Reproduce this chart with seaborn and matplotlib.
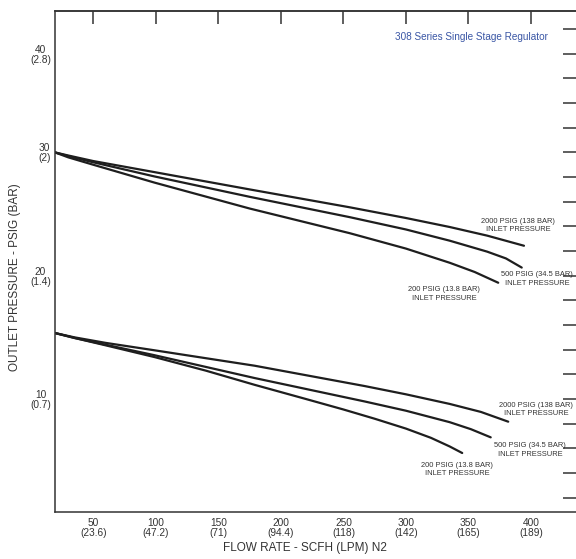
import numpy as np
import pandas as pd
import matplotlib
matplotlib.use("Agg")
import matplotlib.pyplot as plt
import seaborn as sns

# flow rate (SCFH) vs outlet pressure (PSIG)
# upper set: 30 psig set point
hi_2000_x = [19.4, 30, 50, 99, 175, 255, 300, 335, 365, 394.4]
hi_2000_y = [30.0, 29.75, 29.3, 28.4, 27.0, 25.55, 24.68, 23.95, 23.25, 22.43]
hi_500_x = [19.4, 30, 50, 99, 175, 255, 300, 335, 365, 380, 392.6]
hi_500_y = [30.0, 29.7, 29.2, 28.05, 26.4, 24.75, 23.75, 22.84, 21.95, 21.4, 20.66]
hi_200_x = [19.4, 30, 50, 99, 175, 255, 300, 335, 355, 373.8]
hi_200_y = [30.0, 29.6, 29.0, 27.55, 25.45, 23.45, 22.2, 21.05, 20.3, 19.43]

# lower set: ~15 psig set point
lo_2000_x = [19.4, 35, 60, 99, 179, 267, 300, 335, 360, 381.8]
lo_2000_y = [15.35, 15.0, 14.55, 13.95, 12.7, 11.05, 10.38, 9.6, 8.95, 8.16]
lo_500_x = [19.4, 35, 60, 99, 179, 267, 300, 335, 352, 367.8]
lo_500_y = [15.35, 14.95, 14.4, 13.55, 11.7, 9.8, 9.05, 8.12, 7.55, 6.89]
lo_200_x = [19.4, 35, 60, 99, 140, 179, 220, 250, 275, 300, 320, 335, 345]
lo_200_y = [15.35, 14.95, 14.35, 13.4, 12.3, 11.15, 10.0, 9.15, 8.4, 7.6, 6.85, 6.15, 5.62]

curve_labels = ["2000 PSIG (138 BAR)\nINLET PRESSURE",
                "500 PSIG (34.5 BAR)\nINLET PRESSURE",
                "200 PSIG (13.8 BAR)\nINLET PRESSURE"]
hi_label_xy = [(389.6, 24.07), (404.8, 19.73), (330.4, 18.52)]
lo_label_xy = [(404.0, 9.13), (399.2, 5.86), (341.1, 4.27)]

x_ticks = [50, 100, 150, 200, 250, 300, 350, 400]
x_ticklabels = ["50\n(23.6)", "100\n(47.2)", "150\n(71)", "200\n(94.4)",
                "250\n(118)", "300\n(142)", "350\n(165)", "400\n(189)"]
y_ticks = list(range(2, 41, 2))
# the sheet prints "40 (2.8)" one division below the 40 mark
y_ticklabels = {10: "10\n(0.7)", 20: "20\n(1.4)", 30: "30\n(2)", 38: "40\n(2.8)"}

sns.set_style("white")
plt.rcParams['font.family'] = ['Liberation Sans', 'DejaVu Sans']

fig = plt.figure(figsize=(5.76, 5.59), dpi=100)
ax = fig.add_axes([55 / 576, 1 - 512.3 / 559, 523 / 576, 501.3 / 559])

line_kw = dict(color='#1e1e1e', linewidth=1.6, sort=False, ax=ax)
for xs, ys in [(hi_2000_x, hi_2000_y), (hi_500_x, hi_500_y), (hi_200_x, hi_200_y),
               (lo_2000_x, lo_2000_y), (lo_500_x, lo_500_y), (lo_200_x, lo_200_y)]:
    sns.lineplot(x=xs, y=ys, **line_kw)

for lab, (tx, ty) in zip(curve_labels * 2, hi_label_xy + lo_label_xy):
    ax.text(tx, ty, lab, ha='center', va='center', fontsize=5.4,
            color='#333333', linespacing=1.25)

ax.text(0.797, 0.949, "308 Series Single Stage Regulator", transform=ax.transAxes,
        ha='center', va='center', fontsize=7.2, color='#3a56a5')

ax.set_xlim(19.4, 437.6)
ax.set_ylim(0.81, 41.47)

ax.set_xticks(x_ticks)
ax.set_xticklabels(x_ticklabels, fontsize=7.3, color='#333333', linespacing=1.0)
ax.set_yticks(y_ticks)
ax.set_yticklabels([y_ticklabels.get(v, "") for v in y_ticks], fontsize=7.3,
                   color='#333333', linespacing=1.0, multialignment='center')
ax.tick_params(axis='x', direction='in', length=10, width=1.1, color='#333333', pad=4)
ax.tick_params(axis='y', direction='in', length=12.5, width=1.1, color='#333333', pad=3)

# top and right edges carry unlabeled, shorter ticks
top = ax.secondary_xaxis('top')
top.set_xticks(x_ticks)
top.tick_params(direction='in', length=9, width=1.1, color='#333333', labeltop=False)
right = ax.secondary_yaxis('right')
right.set_yticks(y_ticks)
right.tick_params(direction='in', length=11, width=1.1, color='#333333', labelright=False)

for a in (ax, top, right):
    for sp in a.spines.values():
        sp.set_color('#333333')
        sp.set_linewidth(1.1)

ax.set_xlabel("FLOW RATE - SCFH (LPM) N2", fontsize=8.5, color='#333333', va='center')
ax.xaxis.set_label_coords((305 - 55) / 523, (512.3 - 548) / 501.3)
ax.set_ylabel("OUTLET PRESSURE - PSIG (BAR)", fontsize=8.5, color='#333333', va='center')
ax.yaxis.set_label_coords((15 - 55) / 523, (512.3 - 277) / 501.3)

fig.savefig("out.png", dpi=100)
